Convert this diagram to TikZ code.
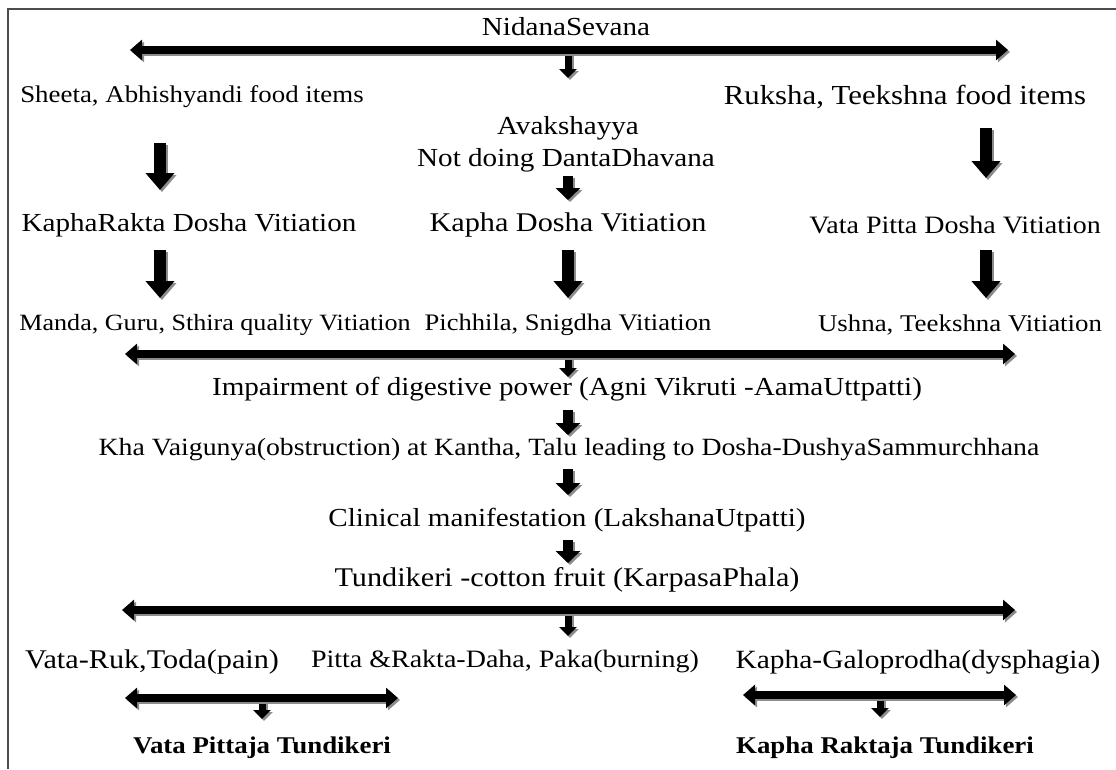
\documentclass[tikz,border=0pt]{standalone}
\usepackage{fontspec}
\setmainfont{Liberation Serif}[FakeStretch=1.12]
\usetikzlibrary{arrows.meta}
\newcommand{\shadarrow}[3]{%
  \draw[#1, draw=black!45, transform canvas={shift={(2pt,-2pt)}}] (#2) -- (#3);
  \draw[#1] (#2) -- (#3);}
\begin{document}
\begin{tikzpicture}[x=1pt,y=-1pt,
  txt/.style={inner sep=0pt, font=\fontsize{#1}{#1}\selectfont},
  txt/.default=24,
  btxt/.style={inner sep=0pt, font=\fontsize{24}{28}\selectfont\bfseries},
  dbl/.style={line width=8pt, {Triangle[length=12pt,width=20pt]}-{Triangle[length=12pt,width=20pt]}},
  bigdown/.style={line width=12pt, -{Triangle[length=17pt,width=28pt]}},
  meddown/.style={line width=10pt, -{Triangle[length=12pt,width=24pt]}},
  smalldown/.style={line width=7pt, -{Triangle[length=9pt,width=17pt]}}
]
\useasboundingbox (0,0) rectangle (1116,769);
\draw[black!70, line width=1.5pt] (8,769) -- (8,9) -- (1116,9);

% texts
\node[txt=26] (n0) at (566,27) {NidanaSevana};
\node[txt=24] (l1) at (192,97) {Sheeta, Abhishyandi food items};
\node[txt=27.5] (r1) at (905,97) {Ruksha, Teekshna food items};
\node[txt=26] (c1a) at (568,128) {Avakshayya};
\node[txt=26] (c1b) at (566,160) {Not doing DantaDhavana};
\node[txt=26] (l2) at (189,225) {KaphaRakta Dosha Vitiation};
\node[txt=27] (c2) at (568,225) {Kapha Dosha Vitiation};
\node[txt=25] (r2) at (955,225) {Vata Pitta Dosha Vitiation};
\node[txt=23.3] (l3) at (215,325) {Manda, Guru, Sthira quality Vitiation};
\node[txt=23.7] (c3) at (568,325) {Pichhila, Snigdha Vitiation};
\node[txt=24] (r3) at (960,325) {Ushna, Teekshna Vitiation};
\node[txt=26] (i1) at (567,389) {Impairment of digestive power (Agni Vikruti -AamaUttpatti)};
\node[txt=24.8] (i2) at (569,450) {Kha Vaigunya(obstruction) at Kantha, Talu leading to Dosha-DushyaSammurchhana};
\node[txt=26] (i3) at (567,520) {Clinical manifestation (LakshanaUtpatti)};
\node[txt=27] (i4) at (567,580) {Tundikeri -cotton fruit (KarpasaPhala)};
\node[txt=27] (b1) at (152,662) {Vata-Ruk,Toda(pain)};
\node[txt=25] (b2) at (505,662) {Pitta \&Rakta-Daha, Paka(burning)};
\node[txt=26.3] (b3) at (918,662) {Kapha-Galoprodha(dysphagia)};
\node[btxt] (f1) at (262,748) {Vata Pittaja Tundikeri};
\node[btxt] (f2) at (885,748) {Kapha Raktaja Tundikeri};

% arrow end points
\coordinate (a0l) at (130,50);  \coordinate (a0r) at (1008,50);
\coordinate (a0m) at (568,50);  \coordinate (a0d) at (568,78);
\coordinate (al1t) at (160,143); \coordinate (al1b) at (160,190);
\coordinate (ar1t) at (986,128); \coordinate (ar1b) at (986,178);
\coordinate (ac1t) at (568,176); \coordinate (ac1b) at (568,200);
\coordinate (al2t) at (160,250); \coordinate (al2b) at (160,298);
\coordinate (ac2t) at (568,250); \coordinate (ac2b) at (568,298);
\coordinate (ar2t) at (986,250); \coordinate (ar2b) at (986,298);
\coordinate (a1l) at (125,354); \coordinate (a1r) at (1015,354);
\coordinate (a1m) at (568,354); \coordinate (a1d) at (568,377);
\coordinate (am1t) at (568,410); \coordinate (am1b) at (568,435);
\coordinate (am2t) at (568,469); \coordinate (am2b) at (568,495);
\coordinate (am3t) at (568,540); \coordinate (am3b) at (568,563);
\coordinate (a2l) at (122,610); \coordinate (a2r) at (1015,610);
\coordinate (a2m) at (568,610); \coordinate (a2d) at (568,636);
\coordinate (a3l) at (125,698); \coordinate (a3r) at (398,698);
\coordinate (a3m) at (262,698); \coordinate (a3d) at (262,719);
\coordinate (a4l) at (743,695); \coordinate (a4r) at (1016,695);
\coordinate (a4m) at (880,695); \coordinate (a4d) at (880,717);

% arrows
\shadarrow{smalldown}{a0m}{a0d}
\shadarrow{dbl}{a0l}{a0r}
\shadarrow{bigdown}{al1t}{al1b}
\shadarrow{bigdown}{ar1t}{ar1b}
\shadarrow{meddown}{ac1t}{ac1b}
\shadarrow{bigdown}{al2t}{al2b}
\shadarrow{bigdown}{ac2t}{ac2b}
\shadarrow{bigdown}{ar2t}{ar2b}
\shadarrow{smalldown}{a1m}{a1d}
\shadarrow{dbl}{a1l}{a1r}
\shadarrow{meddown}{am1t}{am1b}
\shadarrow{meddown}{am2t}{am2b}
\shadarrow{meddown}{am3t}{am3b}
\shadarrow{smalldown}{a2m}{a2d}
\shadarrow{dbl}{a2l}{a2r}
\shadarrow{smalldown}{a3m}{a3d}
\shadarrow{dbl}{a3l}{a3r}
\shadarrow{smalldown}{a4m}{a4d}
\shadarrow{dbl}{a4l}{a4r}
\end{tikzpicture}
\end{document}
